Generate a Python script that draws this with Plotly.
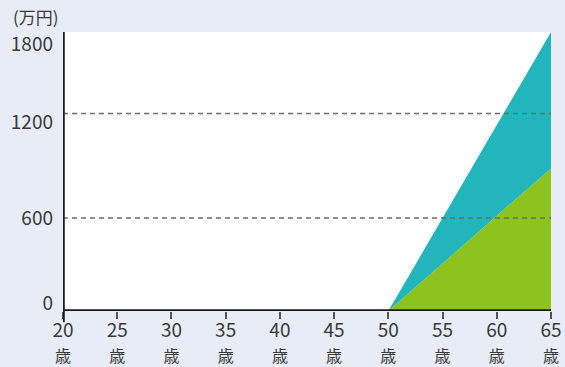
import plotly.graph_objects as go

# data
ages = [20, 50, 65]
green_vals = [0, 0, 920]
total_vals = [0, 0, 1800]
x_ticks = [20, 25, 30, 35, 40, 45, 50, 55, 60, 65]
y_tick_text = ["0", "600", "1200", "1800"]
y_tick_pos = [50, 600, 1220, 1720]
dash_levels = [600, 1275]

BG = "#e8ecf7"
GREEN = "#8dc21f"
TEAL = "#22b6bc"
TXT = "#3a3a3a"
FONT = "Noto Sans CJK JP"

fig = go.Figure()
fig.add_trace(go.Scatter(x=ages, y=green_vals, mode="lines", line=dict(width=0),
                         fill="tozeroy", fillcolor=GREEN, hoverinfo="skip"))
fig.add_trace(go.Scatter(x=ages, y=total_vals, mode="lines", line=dict(width=0),
                         fill="tonexty", fillcolor=TEAL, hoverinfo="skip"))

for lv in dash_levels:
    fig.add_shape(type="line", xref="x", yref="y", x0=20, x1=65, y0=lv, y1=lv,
                  line=dict(color="#6e6e6e", width=1.5, dash="5px,4px"), layer="above")

# x-axis line and y-axis line (y extends below plot)
fig.add_shape(type="line", xref="x", yref="y", x0=20, x1=65, y0=0, y1=0,
              line=dict(color="#1a1a1a", width=3.5), layer="above")
fig.add_shape(type="line", xref="x", yref="paper", x0=20, x1=20, y0=-0.04, y1=1,
              line=dict(color="#1a1a1a", width=3.5), layer="above")

fig.add_annotation(text="(万円)", xref="paper", yref="paper", x=-0.106, y=1.0,
                   xanchor="left", yanchor="bottom", yshift=1, showarrow=False,
                   font=dict(size=17, color=TXT, family=FONT))

fig.update_layout(
    width=565, height=367,
    margin=dict(l=63, r=14, t=32, b=56, autoexpand=False),
    paper_bgcolor=BG, plot_bgcolor="white",
    showlegend=False,
    font=dict(family=FONT, color=TXT),
)
fig.update_xaxes(range=[20, 65], showgrid=False, zeroline=False, showline=False,
                 automargin=False, ticklabelstandoff=-5,
                 tickvals=x_ticks,
                 ticktext=[f"{a}<br><span style='font-size:16px'>歳</span>" for a in x_ticks],
                 ticks="outside", ticklen=7, tickwidth=1.5, tickcolor="#555",
                 tickfont=dict(size=19, color=TXT, family=FONT), fixedrange=True)
fig.update_yaxes(range=[0, 1800], showgrid=False, zeroline=False, showline=False,
                 automargin=False, ticklabelstandoff=9,
                 tickvals=y_tick_pos, ticktext=y_tick_text, ticks="",
                 tickfont=dict(size=19, color=TXT, family=FONT), fixedrange=True)

fig.write_html("out.html")
